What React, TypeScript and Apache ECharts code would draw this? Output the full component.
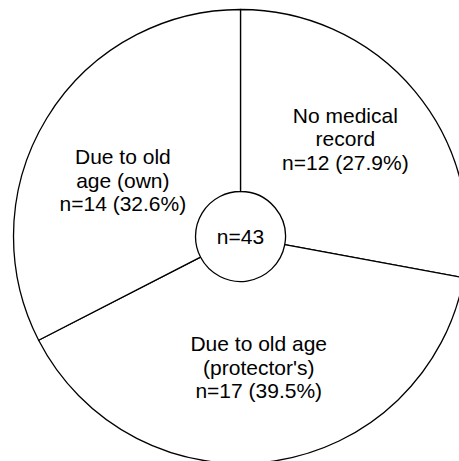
import React, { useEffect, useRef } from "react";
import * as echarts from "echarts";

const categories = ["No medical\nrecord", "Due to old age\n(protector's)", "Due to old\nage (own)"];
const counts = [12, 17, 14];
const percents = ["27.9%", "39.5%", "32.6%"];
const total = 43;

const labelOffsets: [number, number][] = [
  [-2, -9],
  [-2, -7],
  [1, 16],
];

const FONT = "'Liberation Sans', Arial, Helvetica, sans-serif";

export default function App() {
  const ref = useRef<HTMLDivElement>(null);
  useEffect(() => {
    if (!ref.current) return;
    const chart = echarts.init(ref.current, undefined, { renderer: "svg" });
    const data = categories.map((name, i) => ({
      name,
      value: counts[i],
      label: {
        offset: labelOffsets[i],
        formatter: `${name}\nn=${counts[i]} (${percents[i]})`,
      },
    }));
    chart.setOption({
      animation: false,
      backgroundColor: "#ffffff",
      series: [
        {
          type: "pie",
          center: [240.5, 236.5],
          radius: [45, 227],
          startAngle: 90,
          clockwise: true,
          silent: true,
          data,
          itemStyle: {
            color: "#ffffff",
            borderColor: "#000000",
            borderWidth: 1.3,
          },
          label: {
            show: true,
            position: "inside",
            color: "#000000",
            fontFamily: FONT,
            fontSize: 21,
            lineHeight: 23.5,
            align: "center",
          },
          labelLine: { show: false },
          emphasis: { disabled: true },
        },
      ],
      graphic: [
        {
          type: "text",
          x: 240.5,
          y: 236.5,
          style: {
            text: `n=${total}`,
            fill: "#000000",
            font: `21px ${FONT}`,
            textAlign: "center",
            textVerticalAlign: "middle",
          },
        },
      ],
    });
    return () => chart.dispose();
  }, []);
  return (
    <div
      ref={ref}
      style={{ position: "absolute", left: 0, top: 0, width: 459, height: 461 }}
    />
  );
}
